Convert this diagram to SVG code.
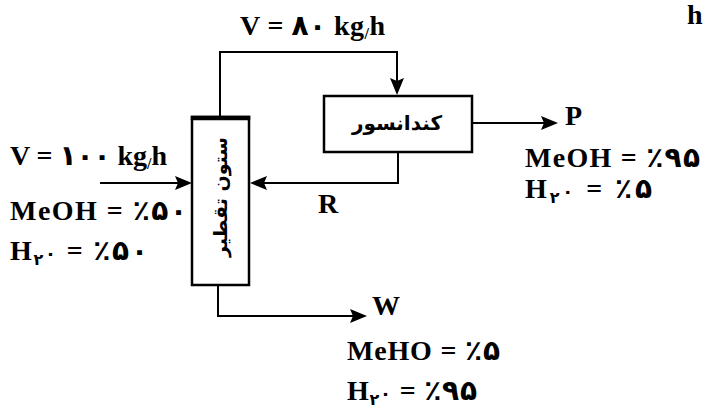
<svg xmlns="http://www.w3.org/2000/svg" width="705" height="412" viewBox="0 0 705 412">
<style>
  .lbl { font-family: "Liberation Serif", "DejaVu Sans", serif; font-weight: bold; font-size: 28px; fill: #000; }
  .fa { font-family: "DejaVu Sans", "Noto Sans", sans-serif; font-weight: bold; fill: #000; }
  .box { fill: #fff; stroke: #000; stroke-width: 2.5; }
  .conn { fill: none; stroke: #000; stroke-width: 2; }
  .sub { font-size: 16px; }
  .zero { font-size: 18px; }
</style>
<defs>
  <marker id="arr" markerUnits="userSpaceOnUse" markerWidth="17" markerHeight="14" refX="13" refY="7" orient="auto">
    <path d="M0,0 L17,7 L0,14 L3,7 z" fill="#000"/>
  </marker>
</defs>
<rect width="705" height="412" fill="#fff"/>

<g id="connectors">
  <path class="conn" d="M220,117 V52 H397 V91" marker-end="url(#arr)"/>
  <path class="conn" d="M472,123 H554" marker-end="url(#arr)"/>
  <path class="conn" d="M398,152 V183 H254" marker-end="url(#arr)"/>
  <path class="conn" d="M100,183 H188" marker-end="url(#arr)"/>
  <path class="conn" d="M218,285 V316 H363" marker-end="url(#arr)"/>
</g>

<g id="column">
  <rect class="box" x="192" y="117" width="57" height="168"/>
  <line x1="190.75" y1="118" x2="250.25" y2="118" stroke="#000" stroke-width="4.5"/>
  <text class="fa" font-size="19" text-anchor="middle" transform="translate(227,197) rotate(-90)">ستون تقطیر</text>
</g>

<g id="condenser">
  <rect class="box" x="324" y="96" width="148" height="56" stroke-width="3"/>
  <text class="fa" font-size="20" x="397" y="130" text-anchor="middle">کندانسور</text>
</g>

<g id="labels">
  <text class="lbl" x="240" y="35" textLength="145" lengthAdjust="spacing">V = ۸۰ kg<tspan class="sub" dy="4">/</tspan><tspan dy="-4">h</tspan></text>
  <text class="lbl" x="687" y="24" font-size="21">h</text>

  <text class="lbl" x="10" y="165" textLength="157" lengthAdjust="spacing">V = ۱۰۰ kg<tspan class="sub" dy="4">/</tspan><tspan dy="-4">h</tspan></text>
  <text class="lbl" x="10" y="220" textLength="177" lengthAdjust="spacing">MeOH = ٪۵۰</text>
  <text class="lbl" x="10" y="260" textLength="138" lengthAdjust="spacing">H<tspan class="sub" dy="5">۲</tspan><tspan class="zero" dy="-5">۰</tspan> = ٪۵۰</text>

  <text class="lbl" x="565" y="125">P</text>
  <text class="lbl" x="525" y="167" textLength="175" lengthAdjust="spacing">MeOH = ٪۹۵</text>
  <text class="lbl" x="525" y="198" textLength="127" lengthAdjust="spacing">H<tspan class="sub" dy="5">۲</tspan><tspan class="zero" dy="-5">۰</tspan> = ٪۵</text>

  <text class="lbl" x="318" y="213">R</text>

  <text class="lbl" x="372" y="315">W</text>
  <text class="lbl" x="347" y="360" textLength="153" lengthAdjust="spacing">MeHO = ٪۵</text>
  <text class="lbl" x="347" y="400" textLength="130" lengthAdjust="spacing">H<tspan class="sub" dy="5">۲</tspan><tspan class="zero" dy="-5">۰</tspan> = ٪۹۵</text>
</g>
</svg>
